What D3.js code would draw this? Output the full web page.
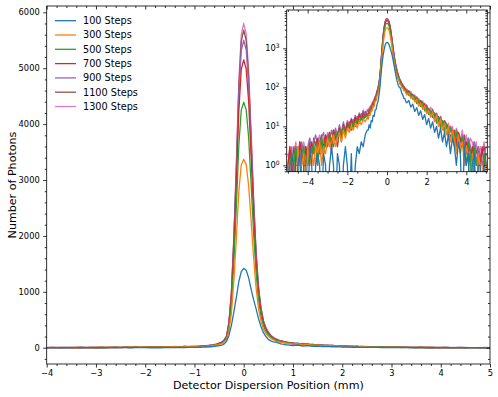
<!DOCTYPE html>
<html>
<head>
<meta charset="utf-8">
<script src="https://cdn.jsdelivr.net/npm/d3@7"></script>
<style>
  body { margin: 0; background: #fff; }
  svg text { font-family: 'DejaVu Sans', sans-serif; fill: #000; }
</style>
</head>
<body>
<div id="chart"></div>
<script>
// detector positions (mm), coarse in the tails, finer around the peak
const positions = [
  -5, -4.9, -4.8, -4.7, -4.6, -4.5, -4.4, -4.3, -4.2, -4.1, -4, -3.9, -3.8, -3.7, -3.6, -3.5, -3.4, -3.3, -3.2, -3.1,
  -3, -2.9, -2.8, -2.7, -2.6, -2.5, -2.4, -2.3, -2.2, -2.1, -2, -1.9, -1.8, -1.7, -1.6, -1.5, -1.4, -1.3, -1.2, -1.1, -1,
  -0.95, -0.9, -0.85, -0.8, -0.75, -0.7, -0.65, -0.6, -0.55, -0.5, -0.45, -0.4, -0.35, -0.3, -0.25, -0.2, -0.15, -0.1, -0.05,
  0, 0.05, 0.1, 0.15, 0.2, 0.25, 0.3, 0.35, 0.4, 0.45, 0.5, 0.55, 0.6, 0.65, 0.7, 0.75, 0.8, 0.85, 0.9, 0.95,
  1, 1.1, 1.2, 1.3, 1.4, 1.5, 1.6, 1.7, 1.8, 1.9, 2, 2.1, 2.2, 2.3, 2.4, 2.5, 2.6, 2.7, 2.8, 2.9,
  3, 3.1, 3.2, 3.3, 3.4, 3.5, 3.6, 3.7, 3.8, 3.9, 4, 4.1, 4.2, 4.3, 4.4, 4.5, 4.6, 4.7, 4.8, 4.9, 5
];

const stepLabels = ['100 Steps', '300 Steps', '500 Steps', '700 Steps', '900 Steps', '1100 Steps', '1300 Steps'];
const stepColors = ['#1f77b4', '#ff7f0e', '#2ca02c', '#d62728', '#9467bd', '#8c564b', '#e377c2'];

const photons100 = [
  1,0,2,1,0,1,2,0,1,1, 0,3,1,0,1,2,1,0,2,1, 0,1,3,1,0,2,1,0,1,3, 1,0,2,0,1,3,2,4,3,6, 8,
  8,11,9,14,13,19,18,26,27,37,44, 65,110,220,400,640,900,1180,1360, 1420, 1385,1250,1050,860,700,520,380,270,200,150,122, 104,99,86,70,63,52,52,43,
  40,46,31,37,24,30,19,25,15,20, 11,16,9,13,7,10,5,9,4,7, 3,6,2,5,3,1,4,2,0,3, 1,2,0,1,2,0,1,1,0,1, 0
];
const photons300 = [
  1,0,2,1,0,3,1,1,2,0, 3,1,2,1,3,2,4,1,3,2, 5,3,4,6,3,5,7,4,8,5, 9,7,10,8,12,9,14,11,15,13, 17,
  15,20,19,26,25,33,32,44,45,61,70, 95,145,300,620,1200,1950,2790,3270, 3370, 3280,2900,2280,1620,1080,700,475,335,255,205,168, 146,120,115,96,96,82,83,71,
  64,72,52,59,42,50,33,40,27,34, 21,26,17,23,13,19,10,15,8,12, 6,10,4,8,5,2,6,3,4,1, 3,2,0,2,1,0,2,1,1,0, 1
];
const photons500 = [
  0,1,2,1,3,1,0,2,3,1, 2,1,3,2,4,1,3,5,2,4, 3,6,4,3,7,5,8,4,10,6, 9,11,8,13,10,15,12,17,14,19, 18,
  21,19,26,24,33,31,42,43,57,63,84, 110,170,360,770,1530,2510,3610,4250, 4390, 4260,3760,2930,2060,1350,860,570,395,295,232,188, 162,132,126,104,103,87,88,75,
  80,62,68,49,57,38,47,32,39,25, 31,20,26,17,22,12,17,9,14,7, 11,5,9,6,3,7,4,2,5,3, 1,4,2,0,3,1,2,1,0,2, 1
];
const photons700 = [
  1,3,1,0,2,1,4,2,1,3, 1,2,4,2,3,5,2,4,3,6, 4,7,3,8,5,6,9,5,11,7, 12,9,15,10,17,12,20,15,22,17, 21,
  18,25,23,31,29,40,39,53,55,75,88, 121,188,410,890,1780,2930,4220,4980, 5150, 4990,4400,3420,2400,1560,985,645,440,325,254,204, 166,151,125,119,101,100,85,86,
  70,78,57,63,45,54,36,43,30,37, 22,28,24,17,22,13,18,10,14,8, 11,9,5,8,6,3,7,4,5,2, 4,3,1,3,2,0,2,1,3,1, 2
];
const photons900 = [
  2,1,3,0,2,3,1,4,2,1, 3,5,2,4,6,3,2,5,7,3, 6,4,8,5,9,6,11,7,13,8, 14,10,16,12,19,13,22,16,26,19, 24,
  26,22,31,28,37,35,48,50,58,79,92, 128,200,437,950,1900,3130,4500,5310, 5500, 5330,4700,3650,2560,1660,1045,685,465,342,266,214, 180,148,139,115,113,95,95,82,
  86,66,72,53,61,42,49,35,31,39, 24,29,20,25,15,21,11,17,13,8, 12,6,10,7,4,8,5,3,6,4, 2,5,3,2,4,1,3,2,1,2, 3
];
const photons1100 = [
  0,2,1,3,1,1,4,2,1,3, 2,4,1,5,3,2,4,6,2,5, 3,7,4,8,5,3,9,6,11,7, 10,13,8,15,11,18,13,21,16,24, 19,
  20,29,25,35,32,44,42,58,61,82,95, 132,205,450,980,1960,3230,4650,5480, 5680, 5500,4850,3770,2640,1710,1080,705,480,352,274,220, 178,160,133,127,108,106,90,91,
  75,82,60,67,48,57,38,46,40,28, 34,25,19,27,16,21,12,18,9,14, 11,7,10,6,8,4,7,5,3,6, 2,5,3,1,4,2,3,1,2,3, 1
];
const photons1300 = [
  1,3,0,2,4,1,3,1,4,2, 1,5,2,3,1,4,6,2,5,3, 7,4,2,6,8,3,7,5,10,6, 12,8,14,9,17,11,20,14,25,18, 27,
  27,24,33,29,41,36,52,48,69,76,104, 135,210,460,1000,2000,3300,4750,5600, 5800, 5620,4950,3850,2700,1750,1100,720,490,360,280,225, 190,155,148,120,121,100,101,86,
  90,70,78,55,64,44,52,37,45,30, 36,23,31,26,18,22,13,17,11,14, 9,12,7,10,5,9,6,4,8,3, 6,2,5,4,2,4,1,3,2,4, 1
];

const mainXTicks = [-4, -3, -2, -1, 0, 1, 2, 3, 4, 5];
const mainYTicks = [0, 1000, 2000, 3000, 4000, 5000, 6000];
const insetXTicks = [-4, -2, 0, 2, 4];
const insetYTicks = [1, 10, 100, 1000];

const allSeries = [photons100, photons300, photons500, photons700, photons900, photons1100, photons1300];
allSeries.forEach((s, i) => {
  if (s.length !== positions.length) throw new Error('series ' + stepLabels[i] + ' has ' + s.length + ' values');
});

const series = stepLabels.map((label, i) => ({
  label,
  color: stepColors[i],
  values: positions.map((p, j) => ({ x: p, y: allSeries[i][j] })),
}));

const width = 498, height = 397;
const svg = d3.select('#chart').append('svg')
  .attr('width', width).attr('height', height);

const box = { left: 46.7, right: 490, top: 6, bottom: 364 };
const xScale = d3.scaleLinear().domain([-4, 5]).range([box.left, box.right]);
const yScale = d3.scaleLinear().domain([-291, 6113]).range([box.bottom, box.top]);

const tickFont = 8.3;

function minorRange(lo, hi, step, majors) {
  const out = [];
  for (let v = lo; v <= hi + 1e-9; v += step) {
    const r = Math.round(v * 1000) / 1000;
    if (!majors.some((m) => Math.abs(m - r) < 1e-6)) out.push(r);
  }
  return out;
}

function styleAxis(g) {
  g.select('.domain').remove();
  g.selectAll('line').attr('stroke', '#000').attr('stroke-width', 0.8);
  g.selectAll('text').style('font-size', tickFont + 'px').attr('fill', '#000');
}

// main chart lines
svg.append('clipPath').attr('id', 'mainClip')
  .append('rect')
  .attr('x', box.left).attr('y', box.top)
  .attr('width', box.right - box.left).attr('height', box.bottom - box.top);

const mainLine = d3.line().x((d) => xScale(d.x)).y((d) => yScale(d.y));

svg.append('g').attr('clip-path', 'url(#mainClip)')
  .selectAll('path')
  .data(series.slice().reverse())
  .join('path')
  .attr('d', (d) => mainLine(d.values))
  .attr('fill', 'none')
  .attr('stroke', (d) => d.color)
  .attr('stroke-width', 1.3)
  .attr('stroke-linejoin', 'round');

// main axes
const xMinor = minorRange(-4, 5, 0.2, mainXTicks);
const yMinor = minorRange(-200, 6000, 200, mainYTicks);

svg.append('g').attr('transform', `translate(0,${box.bottom})`)
  .call(d3.axisBottom(xScale).tickValues(mainXTicks).tickSize(3.5).tickPadding(3).tickFormat(d3.format('d')))
  .call(styleAxis);
svg.append('g').attr('transform', `translate(0,${box.bottom})`)
  .call(d3.axisBottom(xScale).tickValues(xMinor).tickSize(2).tickFormat(''))
  .call(styleAxis);
svg.append('g').attr('transform', `translate(0,${box.top})`)
  .call(d3.axisTop(xScale).tickValues(mainXTicks).tickSize(-3.5).tickFormat(''))
  .call(styleAxis);
svg.append('g').attr('transform', `translate(0,${box.top})`)
  .call(d3.axisTop(xScale).tickValues(xMinor).tickSize(-2).tickFormat(''))
  .call(styleAxis);

svg.append('g').attr('transform', `translate(${box.left},0)`)
  .call(d3.axisLeft(yScale).tickValues(mainYTicks).tickSize(3.5).tickPadding(3.5).tickFormat(d3.format('d')))
  .call(styleAxis);
svg.append('g').attr('transform', `translate(${box.left},0)`)
  .call(d3.axisLeft(yScale).tickValues(yMinor).tickSize(2).tickFormat(''))
  .call(styleAxis);
svg.append('g').attr('transform', `translate(${box.right},0)`)
  .call(d3.axisRight(yScale).tickValues(mainYTicks).tickSize(-3.5).tickFormat(''))
  .call(styleAxis);
svg.append('g').attr('transform', `translate(${box.right},0)`)
  .call(d3.axisRight(yScale).tickValues(yMinor).tickSize(-2).tickFormat(''))
  .call(styleAxis);

svg.append('rect')
  .attr('x', box.left).attr('y', box.top)
  .attr('width', box.right - box.left).attr('height', box.bottom - box.top)
  .attr('fill', 'none').attr('stroke', '#000').attr('stroke-width', 0.8);

svg.append('text')
  .attr('x', (box.left + box.right) / 2)
  .attr('y', 389)
  .attr('text-anchor', 'middle')
  .style('font-size', '11.1px')
  .text('Detector Dispersion Position (mm)');

svg.append('text')
  .attr('transform', `translate(15.5,${(box.top + box.bottom) / 2}) rotate(-90)`)
  .attr('text-anchor', 'middle')
  .style('font-size', '11.1px')
  .text('Number of Photons');

// legend
const legend = svg.append('g');
const legendRows = legend.selectAll('g')
  .data(series)
  .join('g')
  .attr('transform', (d, i) => `translate(0,${20.7 + i * 14.3})`);
legendRows.append('line')
  .attr('x1', 55).attr('x2', 76)
  .attr('stroke', (d) => d.color)
  .attr('stroke-width', 1.3);
legendRows.append('text')
  .attr('x', 83)
  .attr('dy', '0.35em')
  .style('font-size', '9.7px')
  .text((d) => d.label);

// inset, log scale
const inset = { left: 286.7, right: 487.3, top: 10, bottom: 171.7 };
const ix = d3.scaleLinear().domain([-5.06, 5.06]).range([inset.left, inset.right]);
const iy = d3.scaleLog().domain([0.686, 9590]).range([inset.bottom, inset.top]);

svg.append('rect')
  .attr('x', inset.left).attr('y', inset.top)
  .attr('width', inset.right - inset.left).attr('height', inset.bottom - inset.top)
  .attr('fill', '#fff');

svg.append('clipPath').attr('id', 'insetClip')
  .append('rect')
  .attr('x', inset.left).attr('y', inset.top)
  .attr('width', inset.right - inset.left).attr('height', inset.bottom - inset.top);

// zero counts fall off the bottom of a log axis
const insetLine = d3.line().x((d) => ix(d.x)).y((d) => iy(Math.max(d.y, 0.05)));

svg.append('g').attr('clip-path', 'url(#insetClip)')
  .selectAll('path')
  .data(series.slice().reverse())
  .join('path')
  .attr('d', (d) => insetLine(d.values))
  .attr('fill', 'none')
  .attr('stroke', (d) => d.color)
  .attr('stroke-width', 1.3)
  .attr('stroke-linejoin', 'round');

const ixMinor = minorRange(-5, 5, 0.5, insetXTicks);
const iyMinor = [];
[0.1, 1, 10, 100, 1000].forEach((dec) => {
  for (let k = 2; k <= 9; k++) {
    const v = dec * k;
    if (v > 0.686 && v < 9590) iyMinor.push(v);
  }
});

svg.append('g').attr('transform', `translate(0,${inset.bottom})`)
  .call(d3.axisBottom(ix).tickValues(insetXTicks).tickSize(3.5).tickPadding(4).tickFormat(d3.format('d')))
  .call(styleAxis);
svg.append('g').attr('transform', `translate(0,${inset.bottom})`)
  .call(d3.axisBottom(ix).tickValues(ixMinor).tickSize(2).tickFormat(''))
  .call(styleAxis);
svg.append('g').attr('transform', `translate(0,${inset.top})`)
  .call(d3.axisTop(ix).tickValues(insetXTicks).tickSize(-3.5).tickFormat(''))
  .call(styleAxis);
svg.append('g').attr('transform', `translate(0,${inset.top})`)
  .call(d3.axisTop(ix).tickValues(ixMinor).tickSize(-2).tickFormat(''))
  .call(styleAxis);

const insetLeft = svg.append('g').attr('transform', `translate(${inset.left},0)`)
  .call(d3.axisLeft(iy).tickValues(insetYTicks).tickSize(3.5).tickPadding(3.5).tickFormat(''))
  .call(styleAxis);
insetLeft.selectAll('.tick text').each(function (d) {
  const t = d3.select(this);
  t.text('10');
  t.append('tspan')
    .attr('dy', '-0.55em')
    .style('font-size', '6px')
    .text(Math.round(Math.log10(d)));
});
svg.append('g').attr('transform', `translate(${inset.left},0)`)
  .call(d3.axisLeft(iy).tickValues(iyMinor).tickSize(2).tickFormat(''))
  .call(styleAxis);
svg.append('g').attr('transform', `translate(${inset.right},0)`)
  .call(d3.axisRight(iy).tickValues(insetYTicks).tickSize(-3.5).tickFormat(''))
  .call(styleAxis);
svg.append('g').attr('transform', `translate(${inset.right},0)`)
  .call(d3.axisRight(iy).tickValues(iyMinor).tickSize(-2).tickFormat(''))
  .call(styleAxis);

svg.append('rect')
  .attr('x', inset.left).attr('y', inset.top)
  .attr('width', inset.right - inset.left).attr('height', inset.bottom - inset.top)
  .attr('fill', 'none').attr('stroke', '#000').attr('stroke-width', 0.8);
</script>
</body>
</html>
